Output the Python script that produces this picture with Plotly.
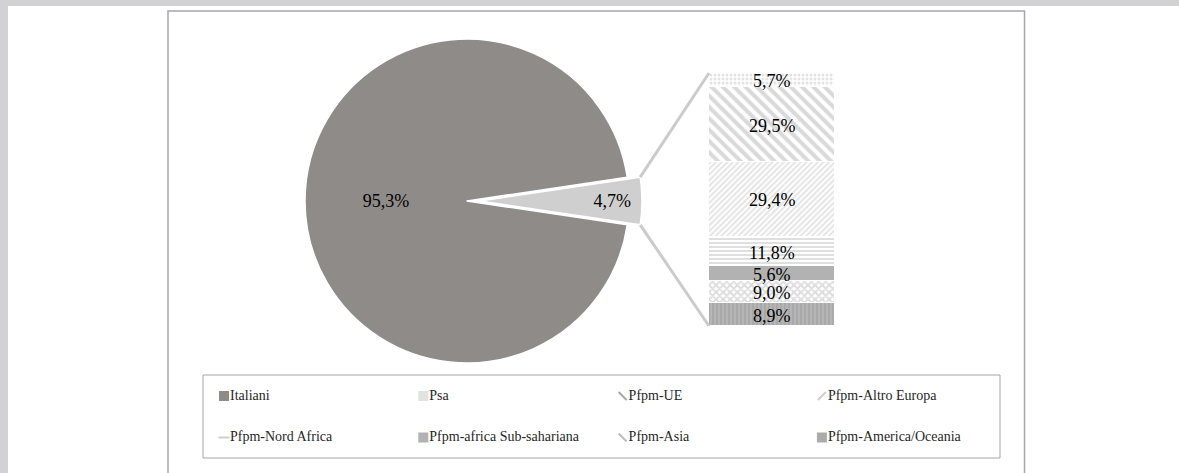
import math
import plotly.graph_objects as go

# --- data -----------------------------------------------------------------
pie_labels = ["Stranieri", "Italiani"]
pie_values = [4.7, 95.3]

bar_labels = [
    "Pfpm-America/Oceania",
    "Pfpm-Asia",
    "Pfpm-africa Sub-sahariana",
    "Pfpm-Nord Africa",
    "Pfpm-Altro Europa",
    "Pfpm-UE",
    "Psa",
]
bar_values = [8.9, 9.0, 5.6, 11.8, 29.4, 29.5, 5.7]

legend_labels = [
    "Italiani", "Psa", "Pfpm-UE", "Pfpm-Altro Europa",
    "Pfpm-Nord Africa", "Pfpm-africa Sub-sahariana", "Pfpm-Asia", "Pfpm-America/Oceania",
]

# --- layout constants (pixels) --------------------------------------------
W, H = 1179, 473
PIE_CX, PIE_CY, PIE_R = 467, 201, 162
PULL = 0.08
BAR_X0, BAR_X1, BAR_Y0, BAR_Y1 = 709, 835, 73, 326

SERIF = "Liberation Serif"
BG_GRAY = "#d2d2d4"
FRAME = "#a6a6a6"


def fmt(v):
    return f"{v:.1f}%".replace(".", ",")


def px(x):
    return x / W


def py(y):
    return 1 - y / H


fig = go.Figure()

# --- pie ----------------------------------------------------------------------
half = PIE_R * (1 + PULL)
slice_deg = pie_values[0] / sum(pie_values) * 360
fig.add_trace(go.Pie(
    labels=pie_labels,
    values=pie_values,
    sort=False,
    direction="clockwise",
    rotation=90 - slice_deg / 2,
    pull=[PULL, 0],
    text=[fmt(v) for v in pie_values],
    textinfo="text",
    textposition="inside",
    insidetextorientation="horizontal",
    textfont=dict(family=SERIF, size=18, color="black"),
    marker=dict(colors=["#d0cfcf", "#8f8b88"], line=dict(color="white", width=1.5)),
    domain=dict(x=[px(PIE_CX - half), px(PIE_CX + half)],
                y=[py(PIE_CY + half), py(PIE_CY - half)]),
    hoverinfo="skip",
    showlegend=False,
))

# --- stacked bar --------------------------------------------------------------
patterns = [
    dict(shape="|", fgcolor="#c8c8c8", bgcolor="#a9a9a9", size=4, solidity=0.4),
    dict(shape="x", fgcolor="#b9b9b9", bgcolor="white", size=5, solidity=0.6),
    dict(shape="", fgcolor="#b2b2b2", bgcolor="#b2b2b2"),
    dict(shape="-", fgcolor="#b8b8b8", bgcolor="white", size=4, solidity=0.45),
    dict(shape="/", fgcolor="#c9c9c9", bgcolor="white", size=4, solidity=0.5),
    dict(shape="\\", fgcolor="#b3b3b3", bgcolor="white", size=8, solidity=0.5),
    dict(shape=".", fgcolor="#c8c8c8", bgcolor="white", size=4, solidity=0.45),
]
solid = ["#a9a9a9", "white", "#b2b2b2", "white", "white", "white", "white"]
for name, val, pat, col in zip(bar_labels, bar_values, patterns, solid):
    fig.add_trace(go.Bar(
        x=[0], y=[val], width=[1], name=name,
        marker=dict(color=col, pattern=pat, line=dict(color="white", width=1.5)),
        xaxis="x2", yaxis="y2", hoverinfo="skip", showlegend=False,
    ))

annotations = []
cum = 0
for val in bar_values:
    annotations.append(dict(
        x=0, y=cum + val / 2, xref="x2", yref="y2", text=fmt(val), showarrow=False,
        font=dict(family=SERIF, size=18, color="black"), yshift=-1,
    ))
    cum += val

# --- legend (manual grid) ------------------------------------------------------
leg_x0, leg_dx, leg_y0, leg_dy = 224, 199.3, 396, 41.5
leg_symbols = ["square", "square", "line-nw", "line-ne", "line-ew", "square", "line-nw", "square"]
leg_colors = ["#8f8b88", "#e2e2e2", "#a8a8a8", "#cfcfcf", "#cfcfcf", "#b2b2b2", "#bdbdbd", "#ababab"]
lx = [leg_x0 + (i % 4) * leg_dx for i in range(len(legend_labels))]
ly = [leg_y0 + (i // 4) * leg_dy for i in range(len(legend_labels))]
fig.add_trace(go.Scatter(
    x=lx, y=ly, mode="markers+text",
    text=legend_labels, textposition="middle right",
    textfont=dict(family=SERIF, size=14, color="#262626"),
    marker=dict(symbol=leg_symbols, size=8, color=leg_colors,
                line=dict(color=leg_colors, width=2)),
    xaxis="x3", yaxis="y3", hoverinfo="skip", showlegend=False,
))

# --- connector lines from the pulled slice to the bar -----------------------------
apex_x = PIE_CX + PULL * PIE_R
theta = math.radians(slice_deg / 2)
corner_top = (apex_x + PIE_R * math.cos(theta), PIE_CY - PIE_R * math.sin(theta))
corner_bot = (apex_x + PIE_R * math.cos(theta), PIE_CY + PIE_R * math.sin(theta))

shapes = [
    # page background strips
    dict(type="rect", xref="paper", yref="paper", x0=0, x1=1, y0=py(6), y1=1,
         fillcolor=BG_GRAY, line_width=0, layer="below"),
    dict(type="rect", xref="paper", yref="paper", x0=0, x1=px(8), y0=0, y1=1,
         fillcolor=BG_GRAY, line_width=0, layer="below"),
    # chart frame
    dict(type="rect", xref="paper", yref="paper", x0=px(168), x1=px(1024.5), y0=py(H + 5), y1=py(11),
         line=dict(color=FRAME, width=1.5), layer="below"),
    # legend frame
    dict(type="rect", xref="paper", yref="paper", x0=px(203), x1=px(1000), y0=py(458), y1=py(375),
         line=dict(color=FRAME, width=1), layer="below"),
    dict(type="line", xref="paper", yref="paper",
         x0=px(corner_top[0]), y0=py(corner_top[1]), x1=px(BAR_X0), y1=py(BAR_Y0),
         line=dict(color="#cbcbcb", width=3)),
    dict(type="line", xref="paper", yref="paper",
         x0=px(corner_bot[0]), y0=py(corner_bot[1]), x1=px(BAR_X0), y1=py(BAR_Y1),
         line=dict(color="#cbcbcb", width=3)),
]

hidden = dict(visible=False, showgrid=False, zeroline=False, fixedrange=True)
fig.update_layout(
    width=W, height=H,
    margin=dict(l=0, r=0, t=0, b=0),
    paper_bgcolor="white", plot_bgcolor="rgba(0,0,0,0)",
    barmode="stack", bargap=0,
    xaxis2=dict(domain=[px(BAR_X0), px(BAR_X1)], anchor="y2", range=[-0.5, 0.5], **hidden),
    yaxis2=dict(domain=[py(BAR_Y1), py(BAR_Y0)], anchor="x2", range=[0, sum(bar_values)], **hidden),
    xaxis3=dict(domain=[0, 1], anchor="y3", range=[0, W], **hidden),
    yaxis3=dict(domain=[0, 1], anchor="x3", range=[H, 0], **hidden),
    shapes=shapes,
    annotations=annotations,
    showlegend=False,
)

fig.write_html("out.html")
